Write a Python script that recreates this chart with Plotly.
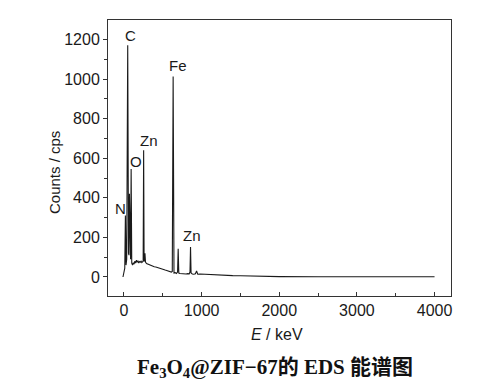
import plotly.graph_objects as go

# Spectrum (energy in keV, counts in cps)
energy = [-13, 0, 10, 18, 26, 35, 48, 58, 64, 70, 78, 85, 92, 100, 110, 120, 130, 140,
          150, 160, 170, 180, 190, 200, 210, 220, 230, 240, 247, 253, 259, 265, 270, 277,
          290, 310, 330, 350, 370, 390, 410, 430, 450, 470, 490, 510, 530, 550, 570, 590,
          610, 622, 633, 644, 660, 675, 690, 698, 706, 720, 740, 760, 780, 800, 820, 840,
          850, 857, 864, 880, 900, 920, 935, 950, 980, 1020, 1060, 1100, 1150, 1200, 1250,
          1300, 1400, 1500, 1600, 1700, 1800, 1900, 2000, 2500, 3000, 3500, 4000]
counts = [0, 25, 45, 310, 60, 90, 1170, 120, 110, 420, 100, 90, 545, 70, 60, 72, 65, 80,
          70, 85, 74, 82, 70, 78, 75, 80, 73, 76, 80, 640, 78, 90, 120, 75,
          68, 64, 60, 58, 55, 52, 50, 47, 45, 42, 40, 38, 35, 33, 31, 28,
          25, 28, 1013, 20, 22, 18, 25, 143, 20, 18, 17, 16, 18, 15, 17, 16,
          25, 152, 20, 15, 14, 16, 30, 14, 15, 14, 13, 12, 11, 10, 9,
          8, 7, 6, 5, 4, 3, 3, 2, 1, 1, 1, 1]

# Peak labels
peak_labels = ["N", "C", "O", "Zn", "Fe", "Zn"]
label_energy = [-50, 83, 160, 323, 697, 870]
label_counts = [345, 1220, 581, 690, 1069, 211]

x_ticks = [0, 1000, 2000, 3000, 4000]
y_ticks = [0, 200, 400, 600, 800, 1000, 1200]

plot_l, plot_r, plot_t, plot_b = 108, 451, 20, 296
W, H = 486, 389

def px_x(v):
    return (v - plot_l) / (plot_r - plot_l)

def px_y(v):
    return (plot_b - v) / (plot_b - plot_t)

fig = go.Figure()
fig.add_trace(go.Scatter(x=energy, y=counts, mode="lines",
                         line=dict(color="#1a1a1a", width=1.1), hoverinfo="skip"))

for t, ex, cy in zip(peak_labels, label_energy, label_counts):
    fig.add_annotation(x=ex, y=cy, text=t, showarrow=False, xref="x", yref="y",
                       font=dict(family="Liberation Sans, Arial", size=15, color="#1a1a1a"))

fig.add_annotation(x=px_x(54), y=px_y(172), xref="paper", yref="paper", text="Counts / cps",
                   showarrow=False, textangle=-90, xanchor="center", yanchor="middle",
                   font=dict(family="Liberation Sans, Arial", size=15, color="#1a1a1a"))
fig.add_annotation(x=px_x(277), y=px_y(334), xref="paper", yref="paper",
                   text="<i>E</i> / keV", showarrow=False,
                   xanchor="center", yanchor="middle",
                   font=dict(family="Liberation Sans, Arial", size=16, color="#1a1a1a"))
fig.add_annotation(x=px_x(275), y=px_y(368), xref="paper", yref="paper",
                   text="<b>Fe<sub>3</sub>O<sub>4</sub>@ZIF−67的 EDS 能谱图</b>",
                   showarrow=False, xanchor="center", yanchor="middle",
                   font=dict(family="Liberation Serif, Noto Sans CJK SC", size=21, color="#111"))

fig.update_layout(
    width=W, height=H,
    margin=dict(l=plot_l, r=W - plot_r, t=plot_t, b=H - plot_b),
    paper_bgcolor="white", plot_bgcolor="white",
    showlegend=False,
    font=dict(family="Liberation Sans, Arial", size=16, color="#1a1a1a"),
)
fig.update_xaxes(range=[-206, 4212], tickvals=x_ticks, ticks="inside", ticklen=4,
                 tickcolor="#333", showline=True, linecolor="#333", linewidth=1,
                 mirror=True, showgrid=False, zeroline=False,
                 minor=dict(ticks="inside", ticklen=3, dtick=500, tick0=0, tickcolor="#333"),
                 tickfont=dict(size=16))
fig.update_yaxes(range=[-96, 1298], tickvals=y_ticks, ticks="outside", ticklen=4,
                 tickcolor="#333", showline=True, linecolor="#333", linewidth=1,
                 mirror=True, showgrid=False, zeroline=False,
                 minor=dict(ticks="outside", ticklen=3, dtick=100, tick0=0, tickcolor="#333"),
                 tickfont=dict(size=16))

fig.write_html("out.html", config={"displayModeBar": False},
               post_script="document.body.style.margin='0';document.body.style.padding='0';")
